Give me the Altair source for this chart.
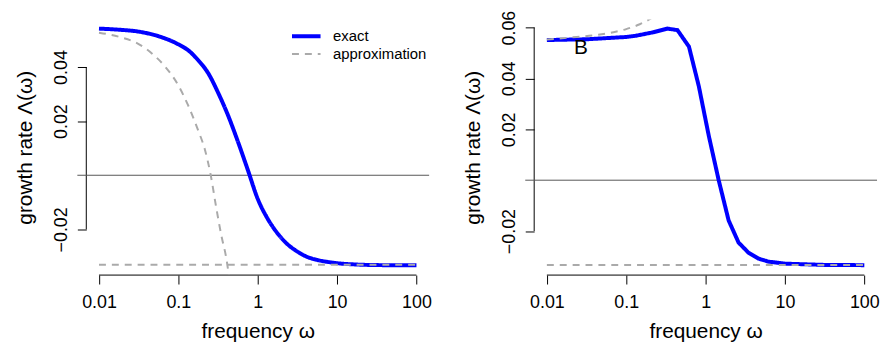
import altair as alt
import pandas as pd

# ---------------- data ----------------
x_ticks = [0.01, 0.1, 1, 10, 100]

# left panel
left_y_ticks = [-0.02, 0.02, 0.04]
left_exact_w = [0.01, 0.0178, 0.0316, 0.0562, 0.1, 0.133, 0.178, 0.237, 0.316, 0.422,
                0.562, 0.75, 1.0, 1.33, 1.78, 2.37, 3.16, 4.22, 5.62, 7.5, 10, 17.8, 31.6, 100]
left_exact_rate = [0.0542, 0.0538, 0.0531, 0.0514, 0.0484, 0.0462, 0.0425, 0.0378, 0.0306, 0.0222,
                   0.0125, 0.0020, -0.0087, -0.0160, -0.0215, -0.0255, -0.0282, -0.0302, -0.0313,
                   -0.0320, -0.0325, -0.0330, -0.0332, -0.0333]
left_approx_w = [0.01, 0.0178, 0.0316, 0.0487, 0.068, 0.1, 0.133, 0.178, 0.215, 0.256,
                 0.302, 0.348, 0.402, 0.447]
left_approx_rate = [0.0527, 0.0512, 0.0485, 0.0445, 0.0402, 0.0332, 0.0258, 0.0165, 0.0097, 0.0,
                    -0.0124, -0.0222, -0.0307, -0.0400]
left_floor_w = [0.01, 100]
left_floor_rate = [-0.0331, -0.0331]

# right panel
right_y_ticks = [-0.02, 0.02, 0.04, 0.06]
right_exact_w = [0.01, 0.0316, 0.1, 0.133, 0.215, 0.331, 0.442, 0.617, 0.822, 1.096,
                 1.462, 1.95, 2.6, 3.47, 4.62, 6.17, 10, 31.6, 100]
right_exact_rate = [0.0551, 0.0554, 0.0563, 0.0568, 0.0581, 0.0596, 0.0590, 0.0525, 0.0369, 0.0175,
                    0.0, -0.0158, -0.0245, -0.0285, -0.0308, -0.0320, -0.0328, -0.0333, -0.0334]
right_approx_w = [0.01, 0.0237, 0.0383, 0.0617, 0.1, 0.148, 0.195, 0.25]
right_approx_rate = [0.0553, 0.0563, 0.0569, 0.0579, 0.0594, 0.0613, 0.0632, 0.0655]
right_floor_w = [0.01, 100]
right_floor_rate = [-0.0333, -0.0333]

panel_label = ["B"]
panel_label_w = [0.0268]
panel_label_rate = [0.0521]

series_names = ["exact", "approximation"]
series_colors = ["#0000ff", "#aaaaaa"]

# ---------------- layout / style ----------------
W, H = 346, 258
FONT = "Liberation Sans"
x_domain = [0.006918, 144.54]
left_y_domain = [-0.0369, 0.0576]
right_y_domain = [-0.0373, 0.0632]


def frame(ws, rs, series, seg):
    return pd.DataFrame({"w": ws, "rate": rs, "series": series, "seg": seg})


def xenc(field="w:Q"):
    return alt.X(field, scale=alt.Scale(type="log", domain=x_domain, nice=False, zero=False),
                 axis=alt.Axis(values=x_ticks, format="~g", title="frequency ω",
                               domain=False, grid=False, ticks=True, tickSize=9, tickColor="black",
                               labelFontSize=18, labelFont=FONT, labelColor="black", labelPadding=10,
                               labelFlush=False, labelOverlap=False, labelBound=False,
                               titleFontSize=21, titleFont=FONT, titleFontWeight="normal",
                               titleColor="black", titlePadding=9))


def yenc(domain, ticks, field="rate:Q"):
    return alt.Y(field, scale=alt.Scale(domain=domain, nice=False, zero=False),
                 axis=alt.Axis(values=ticks, format=".2f", title="growth rate Λ(ω)",
                               domain=False, grid=False, ticks=True, tickSize=9, tickColor="black",
                               labelAngle=270, labelAlign="center", labelBaseline="bottom",
                               labelFontSize=18, labelFont=FONT, labelColor="black", labelPadding=7,
                               labelFlush=False, labelOverlap=False, labelBound=False,
                               titleFontSize=21, titleFont=FONT, titleFontWeight="normal",
                               titleColor="black", titlePadding=17))


def panel(exact_w, exact_r, approx_w, approx_r, floor_w, floor_r, y_domain, y_ticks,
          show_legend, exact_interp):
    df_exact = frame(exact_w, exact_r, "exact", "exact")
    df_approx = pd.concat([frame(approx_w, approx_r, "approximation", "curve"),
                           frame(floor_w, floor_r, "approximation", "floor")])
    if show_legend:
        leg = alt.Legend(orient="none", legendX=211, legendY=6, title=None,
                         symbolType="M-1.6,0H1.6", symbolSize=324, labelFontSize=15, labelFont=FONT,
                         labelColor="black", labelOffset=16, rowPadding=0, padding=0)
    else:
        leg = None
    color = alt.Color("series:N", scale=alt.Scale(domain=series_names, range=series_colors), legend=leg)
    dash = alt.StrokeDash("series:N", scale=alt.Scale(domain=series_names, range=[[1, 0], [7, 6]]), legend=leg)
    width = alt.StrokeWidth("series:N", scale=alt.Scale(domain=series_names, range=[4, 2]), legend=leg)

    exact = alt.Chart(df_exact).mark_line(clip=True, interpolate=exact_interp).encode(
        x=xenc(), y=yenc(y_domain, y_ticks), color=color, strokeDash=dash, strokeWidth=width,
        detail="seg:N")
    approx = alt.Chart(df_approx).mark_line(clip=True, interpolate="monotone").encode(
        x=xenc(), y=yenc(y_domain, y_ticks), color=color, strokeDash=dash, strokeWidth=width,
        detail="seg:N")

    zero = alt.Chart(pd.DataFrame({"rate": [0.0]})).mark_rule(color="#555555", strokeWidth=1).encode(
        y=yenc(y_domain, y_ticks), x=alt.value(-9), x2=alt.value(W))
    yline = alt.Chart(pd.DataFrame({"rate": [y_ticks[0]], "hi": [y_ticks[-1]]})).mark_rule(
        color="black", strokeWidth=1).encode(
        y=yenc(y_domain, y_ticks), y2="hi:Q", x=alt.value(0))
    xline = alt.Chart(pd.DataFrame({"w": [x_ticks[0]], "hi": [x_ticks[-1]]})).mark_rule(
        color="black", strokeWidth=1).encode(
        x=xenc(), x2="hi:Q", y=alt.value(H))
    layers = [yline, xline, zero, exact, approx]
    if not show_legend:
        lab = alt.Chart(pd.DataFrame({"w": panel_label_w, "rate": panel_label_rate,
                                      "t": panel_label})).mark_text(
            fontSize=21, font=FONT, color="black", align="center", baseline="middle").encode(
            x=xenc(), y=yenc(y_domain, y_ticks), text="t:N")
        layers.append(lab)
    return alt.layer(*layers).properties(width=W, height=H)


left = panel(left_exact_w, left_exact_rate, left_approx_w, left_approx_rate,
             left_floor_w, left_floor_rate, left_y_domain, left_y_ticks, True, "monotone")
right = panel(right_exact_w, right_exact_rate, right_approx_w, right_approx_rate,
              right_floor_w, right_floor_rate, right_y_domain, right_y_ticks, False, "linear")

chart = alt.hconcat(left, right, spacing=31).resolve_scale(
    color="independent", strokeDash="independent", strokeWidth="independent",
    x="independent", y="independent"
).properties(
    padding={"left": 7, "top": 0, "right": 0, "bottom": 0}
).configure(background="white").configure_view(stroke=None)

chart.save("out.html", embed_options={"renderer": "svg", "actions": False})
